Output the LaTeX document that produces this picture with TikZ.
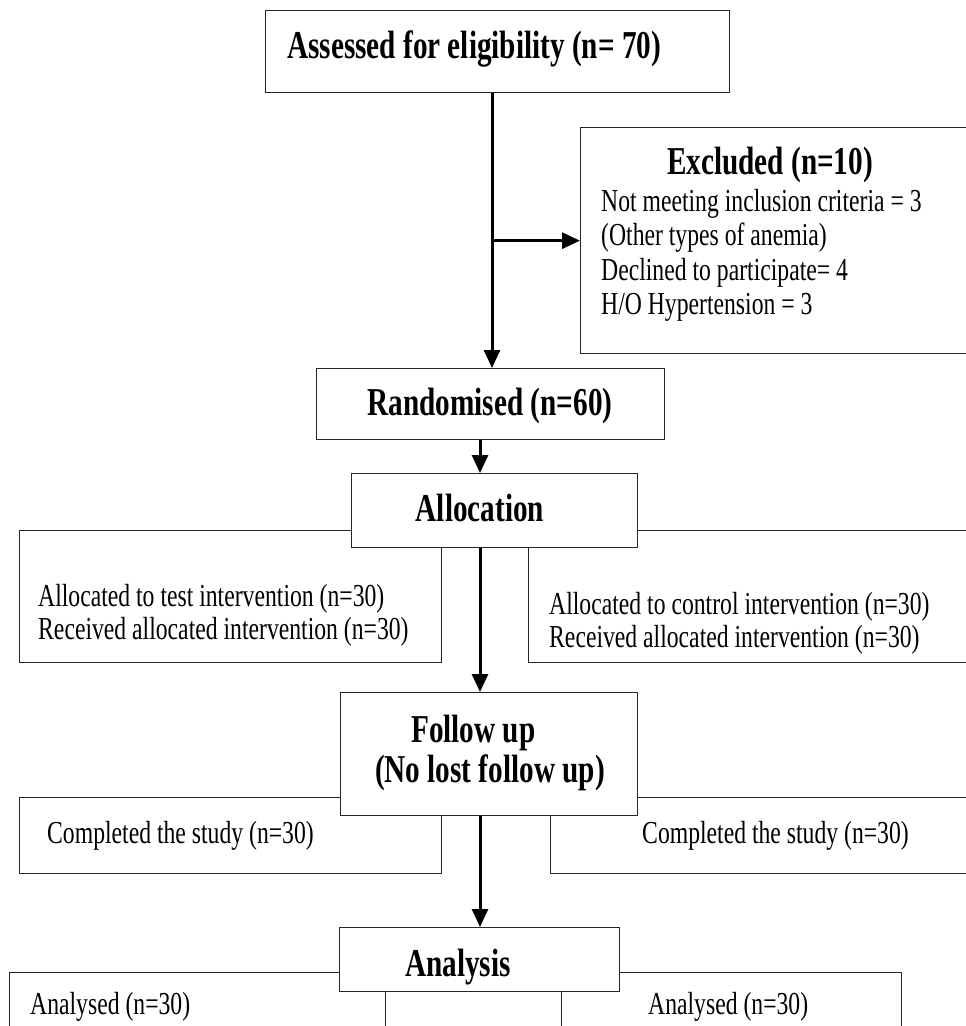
\documentclass[tikz,border=0pt]{standalone}
\usepackage{fontspec}
\setmainfont{Liberation Serif}[FakeStretch=0.74]
\usetikzlibrary{arrows.meta}

\newcommand\bodysize{\fontsize{32}{36}\selectfont}
\newcommand\headsize{\fontsize{39.5}{45}\selectfont\bfseries}

\begin{document}
\begin{tikzpicture}[x=1pt,y=-1pt,line join=miter,
		cbox/.style={draw=black!85,line width=1.3pt,fill=white,inner sep=0pt,anchor=north west},
		bodytxt/.style={font=\bodysize,inner sep=0pt,anchor=base west},
		headtxt/.style={font=\headsize,inner sep=0pt,anchor=base},
		arr/.style={line width=3pt,-{Triangle[length=18pt,width=16pt]}}]
	\useasboundingbox (0,0) rectangle (966,1026);
	\clip (0,0) rectangle (966,1026);
	
	% side boxes first, the middle column is laid over them
	\node[cbox,minimum width=422pt,minimum height=132pt] (testarm) at (19,530) {};
	\node[cbox,minimum width=450pt,minimum height=132pt] (ctrlarm) at (528,530) {};
	\node[cbox,minimum width=422pt,minimum height=76pt] (testdone) at (19,797) {};
	\node[cbox,minimum width=430pt,minimum height=76pt] (ctrldone) at (550,797) {};
	\node[cbox,minimum width=376pt,minimum height=80pt] (testan) at (9,972) {};
	\node[cbox,minimum width=176pt,minimum height=80pt] (midan) at (385,972) {};
	\node[cbox,minimum width=340pt,minimum height=80pt] (ctrlan) at (561,972) {};
	
	\node[cbox,minimum width=464pt,minimum height=82pt] (elig) at (265,10) {};
	\node[cbox,minimum width=400pt,minimum height=226pt] (excl) at (580,127) {};
	\node[cbox,minimum width=348pt,minimum height=71pt] (rand) at (316,368) {};
	\node[cbox,minimum width=286pt,minimum height=74pt] (alloc) at (351,473) {};
	\node[cbox,minimum width=297pt,minimum height=123pt] (follow) at (340,692) {};
	\node[cbox,minimum width=280pt,minimum height=64pt] (analysis) at (339,927) {};
	
	% texts
	\node[headtxt,anchor=base west] (eligtxt) at (287,58) {Assessed for eligibility (n= 70)};
	\node[headtxt] (excltxt) at (770,174) {Excluded (n=10)};
	\foreach \ln [count=\k] in {{Not meeting inclusion criteria = 3},{(Other types of anemia)},{Declined to participate= 4},{H/O Hypertension = 3}} {
		\node[bodytxt] (exclline\k) at (601,211+34.5*\k-34.5) {\ln};
	}
	\node[headtxt] (randtxt) at (490,415) {Randomised (n=60)};
	\node[headtxt] (alloctxt) at (480,521) {Allocation};
	
	\node[bodytxt] (testarm1) at (38,606) {Allocated to test intervention (n=30)};
	\node[bodytxt] (testarm2) at (38,639) {Received allocated intervention (n=30)};
	\node[bodytxt] (ctrlarm1) at (549,614) {Allocated to control intervention (n=30)};
	\node[bodytxt] (ctrlarm2) at (549,647) {Received allocated intervention (n=30)};
	
	\node[headtxt,anchor=base west] (followtxt1) at (411,742) {Follow up};
	\node[headtxt] (followtxt2) at (490,782) {(No lost follow up)};
	\node[bodytxt] (testdonetxt) at (47,843) {Completed the study (n=30)};
	\node[bodytxt] (ctrldonetxt) at (642,843) {Completed the study (n=30)};
	
	\node[headtxt] (analysistxt) at (458,976) {Analysis};
	\node[bodytxt] (testantxt) at (30,1014) {Analysed (n=30)};
	\node[bodytxt] (ctrlantxt) at (648,1014) {Analysed (n=30)};
	
	% arrows
	\coordinate (upperspine) at (492,0);
	\coordinate (spine) at (480,0);
	\draw[arr] (elig.south -| upperspine) -- (rand.north -| upperspine);
	\draw[arr] (excl.west -| upperspine) -- (excl.west);
	\draw[arr] (rand.south -| spine) -- (alloc.north -| spine);
	\draw[arr] (alloc.south -| spine) -- (follow.north -| spine);
	\draw[arr] (follow.south -| spine) -- (analysis.north -| spine);
\end{tikzpicture}
\end{document}
